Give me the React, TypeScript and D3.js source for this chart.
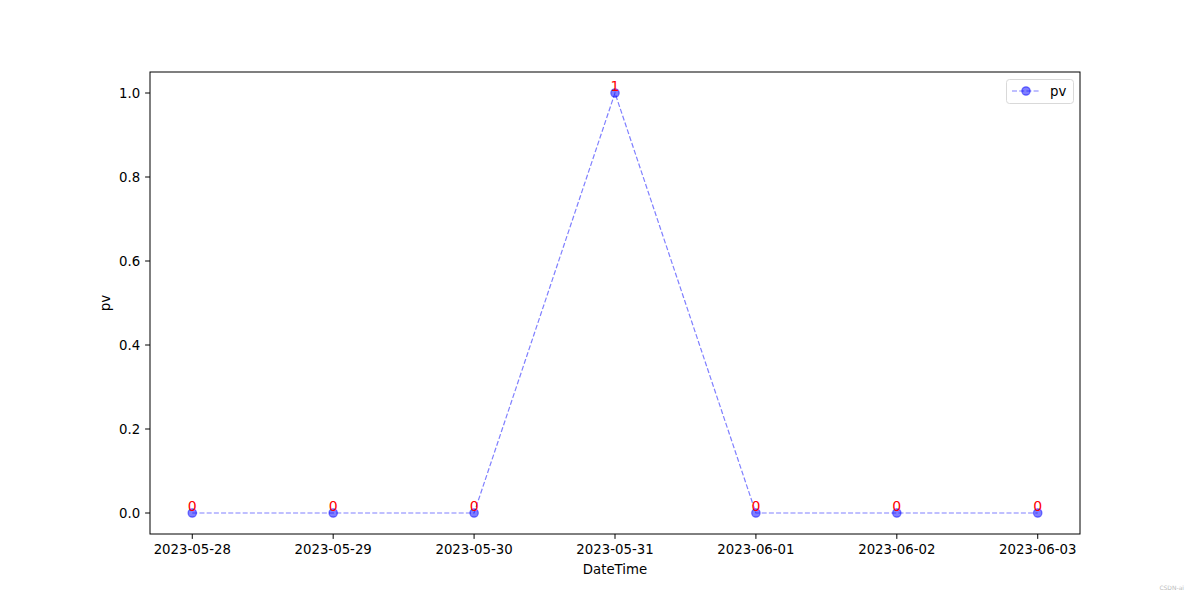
import React, { useEffect, useRef } from 'react'
import * as d3 from 'd3'

const dates = ['2023-05-28', '2023-05-29', '2023-05-30', '2023-05-31', '2023-06-01', '2023-06-02', '2023-06-03']
const pv = [0, 0, 0, 1, 0, 0, 0]
const yTicks = [0.0, 0.2, 0.4, 0.6, 0.8, 1.0]

const W = 1200
const H = 600
const left = 150, right = 1080, top = 72, bottom = 534
const font = 'DejaVu Sans, sans-serif'

const App = () => {
  const ref = useRef<SVGSVGElement>(null)

  useEffect(() => {
    const svg = d3.select(ref.current)
    svg.selectAll('*').remove()

    const x = d3.scaleLinear().domain([-0.3, dates.length - 1 + 0.3]).range([left, right])
    const y = d3.scaleLinear().domain([-0.05, 1.05]).range([bottom, top])

    svg.append('rect').attr('width', W).attr('height', H).attr('fill', 'white')

    // line
    const line = d3.line<number>().x((d, i) => x(i)).y(d => y(d))
    svg.append('path')
      .datum(pv)
      .attr('d', line)
      .attr('fill', 'none')
      .attr('stroke', 'blue')
      .attr('stroke-opacity', 0.5)
      .attr('stroke-width', 1.2)
      .attr('stroke-dasharray', '5,2.2')

    // markers
    svg.selectAll('circle.pt')
      .data(pv)
      .enter().append('circle')
      .attr('class', 'pt')
      .attr('cx', (d, i) => x(i))
      .attr('cy', d => y(d))
      .attr('r', 4.2)
      .attr('fill', 'blue')
      .attr('fill-opacity', 0.5)
      .attr('stroke', 'blue')
      .attr('stroke-opacity', 0.5)
      .attr('stroke-width', 1.2)

    // value labels
    svg.selectAll('text.val')
      .data(pv)
      .enter().append('text')
      .attr('class', 'val')
      .attr('x', (d, i) => x(i))
      .attr('y', d => y(d) - 2)
      .attr('text-anchor', 'middle')
      .attr('fill', 'red')
      .attr('font-family', font)
      .attr('font-size', 14)
      .text(d => d)

    // frame
    svg.append('rect')
      .attr('x', left).attr('y', top)
      .attr('width', right - left).attr('height', bottom - top)
      .attr('fill', 'none').attr('stroke', 'black').attr('stroke-width', 1)

    // x ticks
    const xt = svg.append('g')
    dates.forEach((d, i) => {
      xt.append('line')
        .attr('x1', x(i)).attr('x2', x(i))
        .attr('y1', bottom).attr('y2', bottom + 4.9)
        .attr('stroke', 'black')
      xt.append('text')
        .attr('x', x(i)).attr('y', bottom + 20)
        .attr('text-anchor', 'middle')
        .attr('font-family', font).attr('font-size', 13.3)
        .text(d)
    })

    // y ticks
    const yt = svg.append('g')
    yTicks.forEach(t => {
      yt.append('line')
        .attr('x1', left - 4.9).attr('x2', left)
        .attr('y1', y(t)).attr('y2', y(t))
        .attr('stroke', 'black')
      yt.append('text')
        .attr('x', left - 9.8).attr('y', y(t))
        .attr('dy', '0.35em')
        .attr('text-anchor', 'end')
        .attr('font-family', font).attr('font-size', 13.3)
        .text(t.toFixed(1))
    })

    // axis labels
    svg.append('text')
      .attr('x', (left + right) / 2).attr('y', 574)
      .attr('text-anchor', 'middle')
      .attr('font-family', font).attr('font-size', 13.3)
      .text('DateTime')
    svg.append('text')
      .attr('transform', `translate(110,${(top + bottom) / 2}) rotate(-90)`)
      .attr('text-anchor', 'middle')
      .attr('font-family', font).attr('font-size', 13.3)
      .text('pv')

    // legend
    const lg = svg.append('g')
    lg.append('rect')
      .attr('x', 1006.5).attr('y', 79.5).attr('width', 67).attr('height', 24)
      .attr('rx', 3)
      .attr('fill', 'white').attr('stroke', '#d9d9d9')
    lg.append('line')
      .attr('x1', 1012).attr('x2', 1040).attr('y1', 91).attr('y2', 91)
      .attr('stroke', 'blue').attr('stroke-opacity', 0.5)
      .attr('stroke-width', 1.2).attr('stroke-dasharray', '5,2.2')
    lg.append('circle')
      .attr('cx', 1026).attr('cy', 91).attr('r', 4.2)
      .attr('fill', 'blue').attr('fill-opacity', 0.5)
      .attr('stroke', 'blue').attr('stroke-opacity', 0.5).attr('stroke-width', 1.2)
    lg.append('text')
      .attr('x', 1050).attr('y', 96)
      .attr('font-family', font).attr('font-size', 13.3)
      .text('pv')

    // watermark
    svg.append('text')
      .attr('x', 1184).attr('y', 590)
      .attr('text-anchor', 'end')
      .attr('font-family', font).attr('font-size', 6)
      .attr('fill', '#bbbbbb')
      .text('CSDN-ai')
  }, [])

  return (
    <svg ref={ref} width={W} height={H} style={{ position: 'fixed', left: 0, top: 0 }} />
  )
}

export default App
